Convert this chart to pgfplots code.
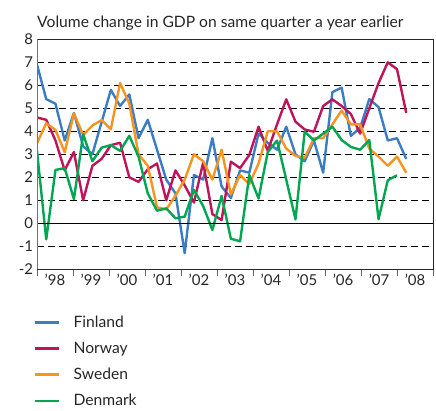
\documentclass[border=0pt]{standalone}
\usepackage{fontspec}
\setmainfont{Lato}
\usepackage{pgfplots}
\usepackage{pgfplotstable}
\pgfplotsset{compat=1.18}
\definecolor{cFin}{RGB}{58,125,195}
\definecolor{cNor}{RGB}{190,20,90}
\definecolor{cSwe}{RGB}{247,148,30}
\definecolor{cDen}{RGB}{0,166,81}
\pgfplotstableread{
q v
0 6.9
1 5.4
2 5.2
3 3.6
4 4.8
5 3.35
6 3.0
7 4.4
8 5.8
9 5.1
10 5.6
11 3.7
12 4.5
13 3.2
14 1.9
15 1.3
16 -1.3
17 2.1
18 1.9
19 3.7
20 1.6
21 1.1
22 2.3
23 2.2
24 3.9
25 3.5
26 3.2
27 4.2
28 3.0
29 2.7
30 3.6
31 2.2
32 5.7
33 5.9
34 3.8
35 4.15
36 5.4
37 5.05
38 3.6
39 3.7
40 2.8
}\finland
\pgfplotstableread{
q v
0 4.6
1 4.5
2 3.6
3 2.3
4 3.1
5 1.0
6 2.5
7 2.8
8 3.4
9 3.5
10 2.0
11 1.8
12 2.35
13 2.6
14 1.0
15 2.3
16 1.65
17 0.9
18 2.64
19 0.4
20 0.14
21 2.68
22 2.4
23 2.97
24 4.2
25 3.15
26 4.3
27 5.39
28 4.42
29 4.08
30 3.98
31 5.1
32 5.39
33 5.1
34 4.75
35 3.9
36 5.0
37 6.1
38 7.0
39 6.7
40 4.8
}\norway
\pgfplotstableread{
q v
0 3.48
1 4.35
2 4.06
3 3.09
4 4.78
5 3.84
6 4.25
7 4.49
8 4.09
9 6.1
10 5.2
11 3.0
12 2.5
13 0.7
14 0.6
15 1.2
16 1.9
17 3.0
18 2.7
19 1.9
20 3.2
21 1.25
22 2.1
23 1.7
24 2.6
25 4.0
26 4.0
27 3.25
28 2.93
29 2.85
30 3.7
31 3.7
32 4.3
33 4.9
34 4.3
35 4.3
36 3.25
37 2.9
38 2.5
39 2.9
40 2.2
}\sweden
\pgfplotstableread{
q v
0 3.14
1 -0.7
2 2.32
3 2.4
4 1.05
5 3.87
6 2.7
7 3.29
8 3.4
9 3.15
10 3.8
11 2.9
12 1.3
13 0.55
14 0.65
15 0.22
16 0.29
17 1.45
18 0.75
19 -0.29
20 1.19
21 -0.67
22 -0.78
23 2.1
24 1.08
25 3.1
26 3.6
27 1.9
28 0.17
29 3.99
30 3.6
31 3.9
32 4.2
33 3.62
34 3.32
35 3.2
36 3.62
37 0.18
38 1.87
39 2.09
}\denmark
\begin{document}
\begin{tikzpicture}[x=1bp,y=1bp]
\useasboundingbox (0,0) rectangle (436,410);
\node[anchor=base west, font=\fontsize{15.7}{18}\selectfont, text=black!85, inner sep=0] at (37,383) {Volume change in GDP on same quarter a year earlier};
\begin{axis}[
  at={(37bp,140.7bp)}, anchor=south west,
  scale only axis, width=396bp, height=230bp,
  xmin=0, xmax=42.9, ymin=-2, ymax=8,
  ytick={-2,-1,0,1,2,3,4,5,6,7,8},
  yticklabels={-2,-1,0,1,2,3,4,5,6,7,8},
  ytick style={draw=none},
  xtick={1.95,5.85,9.75,13.65,17.55,21.45,25.35,29.25,33.15,37.05,40.95},
  xticklabels={’98,’99,’00,’01,’02,’03,’04,’05,’06,’07,’08},
  minor xtick={0,3.9,7.8,11.7,15.6,19.5,23.4,27.3,31.2,35.1,39.0,42.9},
  xtick pos=lower, ytick pos=left,
  tick align=outside,
  major tick length=0pt, minor tick length=7bp,
  minor tick style={black!60, line width=0.8bp},
  tick label style={font=\fontsize{15}{17}\selectfont, text=black!85},
  yticklabel style={xshift=-0.5bp},
  xticklabel style={yshift=-1.5bp},
  ymajorgrids,
  grid style={black, line width=0.8bp, dash pattern=on 7bp off 4bp},
  axis line style={black!85, line width=0.8bp},
  legend style={at={(rel axis cs:0,0)}, anchor=north west, xshift=-3bp, yshift=-45.5bp,
    draw=none, fill=none, font=\fontsize{15.7}{18}\selectfont, text=black!85,
    row sep=11.2bp, inner sep=0pt,
    nodes={inner sep=1bp},
    /tikz/every odd column/.append style={column sep=12bp}},
  legend cell align=left,
  legend image code/.code={\draw[#1, line width=2.4bp] (0bp,0bp) -- (24bp,0bp);},
  every axis plot/.append style={line width=2.4bp, line join=round, mark=none},
]
\addplot[cFin] table[x=q,y=v] {\finland};
\addplot[cNor] table[x=q,y=v] {\norway};
\addplot[cSwe] table[x=q,y=v] {\sweden};
\addplot[cDen] table[x=q,y=v] {\denmark};
\legend{Finland,Norway,Sweden,Denmark}
\draw[black, line width=0.9bp] (axis cs:0,0) -- (axis cs:42.9,0);
\draw[black!55, line width=1.8bp] (rel axis cs:0,0) -- (rel axis cs:0,1);
\end{axis}
\end{tikzpicture}
\end{document}
